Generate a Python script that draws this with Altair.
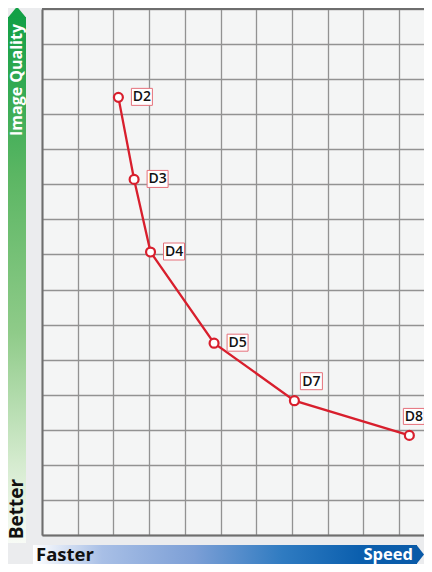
import altair as alt
import pandas as pd

labels = ["D2", "D3", "D4", "D5", "D7", "D8"]
speed = [2.14, 2.58, 3.04, 4.82, 7.07, 10.29]
quality = [12.48, 10.14, 8.07, 5.47, 3.83, 2.84]
x_ticks = list(range(0, 11))
y_ticks = list(range(0, 16))

df = pd.DataFrame({"label": labels, "speed": speed, "quality": quality})

W, H = 382, 526
RED = "#d81f2d"
GRID = "#929292"
BORDER = "#6e6e6e"
FONT = "Open Sans"

xs = alt.Scale(domain=[0, 10.70], nice=False, zero=False)
ys = alt.Scale(domain=[0, 15], nice=False, zero=False)

X = alt.X("speed:Q", scale=xs, axis=alt.Axis(values=x_ticks, labels=False, ticks=False, title=None,
                                               domain=True, domainColor=BORDER, domainWidth=2,
                                               grid=True, gridColor=GRID, gridWidth=1.3))
Y = alt.Y("quality:Q", scale=ys, axis=alt.Axis(values=y_ticks, labels=False, ticks=False, title=None,
                                                 domain=True, domainColor=BORDER, domainWidth=2,
                                                 grid=True, gridColor=GRID, gridWidth=1.3))

base = alt.Chart(df)

line = base.mark_line(color=RED, strokeWidth=2.3).encode(x=X, y=Y)
pts = base.mark_point(shape="circle", size=80, filled=True, fill="white", stroke=RED,
                      strokeWidth=2.2, opacity=1).encode(x=X, y=Y)


def label_layer(names, x0, x1, y0, y1):
    sub = base.transform_filter(alt.FieldOneOfPredicate(field="label", oneOf=names))
    box = sub.mark_rect(xOffset=x0, x2Offset=x1, yOffset=y0, y2Offset=y1, fill="white",
                        stroke="#e5707a", strokeWidth=1).encode(x=X, x2="speed:Q", y=Y, y2="quality:Q")
    txt = sub.mark_text(align="center", baseline="middle", dx=(x0 + x1) / 2, dy=(y0 + y1) / 2 + 0.5,
                        font=FONT, fontSize=14, fontWeight=600, color="#111111").encode(
        x=X, y=Y, text="label:N")
    return [box, txt]


lab = (label_layer(["D2", "D3", "D4", "D5"], 13, 34, -9, 8)
       + label_layer(["D7"], 6, 28, -28, -11)
       + label_layer(["D8"], -6, 15, -27, -11))

one = pd.DataFrame({"k": [0]})
deco = alt.Chart(one)

green = alt.LinearGradient(gradient="linear", x1=0, x2=0, y1=0, y2=1, stops=[
    alt.GradientStop(color="#13a046", offset=0),
    alt.GradientStop(color="#5bb663", offset=0.3),
    alt.GradientStop(color="#8fcb89", offset=0.6),
    alt.GradientStop(color="#d5ebcf", offset=0.85),
    alt.GradientStop(color="#f8fbf6", offset=1),
])
blue = alt.LinearGradient(gradient="linear", x1=0, x2=1, y1=0, y2=0, stops=[
    alt.GradientStop(color="#ffffff", offset=0),
    alt.GradientStop(color="#a8bfe6", offset=0.18),
    alt.GradientStop(color="#7c9fd6", offset=0.42),
    alt.GradientStop(color="#2f7bc1", offset=0.65),
    alt.GradientStop(color="#0b5fae", offset=0.85),
    alt.GradientStop(color="#0a5aa8", offset=1),
])

left_bar = deco.mark_rect(fill=green).encode(x=alt.value(-34), x2=alt.value(-16),
                                              y=alt.value(8), y2=alt.value(534))
up_arrow = deco.mark_point(shape="M-1,0.05 L0,-1.15 L1,0.05 Z", size=324, filled=True, fill="#13a046",
                           strokeWidth=0, opacity=1).encode(x=alt.value(-25), y=alt.value(8))
bot_bar = deco.mark_rect(fill=blue).encode(x=alt.value(-9), x2=alt.value(375),
                                            y=alt.value(536), y2=alt.value(555))
right_arrow = deco.mark_point(shape="M-0.05,-1 L0.74,0 L-0.05,1 Z", size=361, filled=True, fill="#0a5aa8",
                              strokeWidth=0, opacity=1).encode(x=alt.value(375), y=alt.value(545.5))

t_iq = deco.mark_text(angle=270, align="center", baseline="middle", font=FONT, fontSize=16,
                      fontWeight="bold", color="white").encode(x=alt.value(-25), y=alt.value(71),
                                                               text=alt.value("Image Quality"))
t_better = deco.mark_text(angle=270, align="center", baseline="middle", font=FONT, fontSize=19,
                          fontWeight="bold", color="#111111").encode(x=alt.value(-25), y=alt.value(500),
                                                                     text=alt.value("Better"))
t_faster = deco.mark_text(align="left", baseline="middle", font=FONT, fontSize=18.5,
                          fontWeight="bold", color="#111111").encode(x=alt.value(-6), y=alt.value(545.5),
                                                                     text=alt.value("Faster"))
t_speed = deco.mark_text(align="right", baseline="middle", font=FONT, fontSize=16.5,
                         fontWeight="bold", color="white").encode(x=alt.value(371), y=alt.value(545.5),
                                                                  text=alt.value("Speed"))
top_border = deco.mark_rule(color=BORDER, strokeWidth=2).encode(x=alt.value(0), x2=alt.value(W),
                                                                 y=alt.value(0))

chart = alt.layer(line, pts, *lab, left_bar, up_arrow, bot_bar, right_arrow,
                  t_iq, t_better, t_faster, t_speed, top_border).properties(
    width=W, height=H,
    padding={"left": 34, "top": 1, "right": 0, "bottom": 29},
    autosize=alt.AutoSizeParams(type="none"),
    background="#ebecee",
).configure_view(fill="#f4f5f5", stroke=None)

chart.save("out.html", embed_options={"renderer": "svg", "actions": False})
